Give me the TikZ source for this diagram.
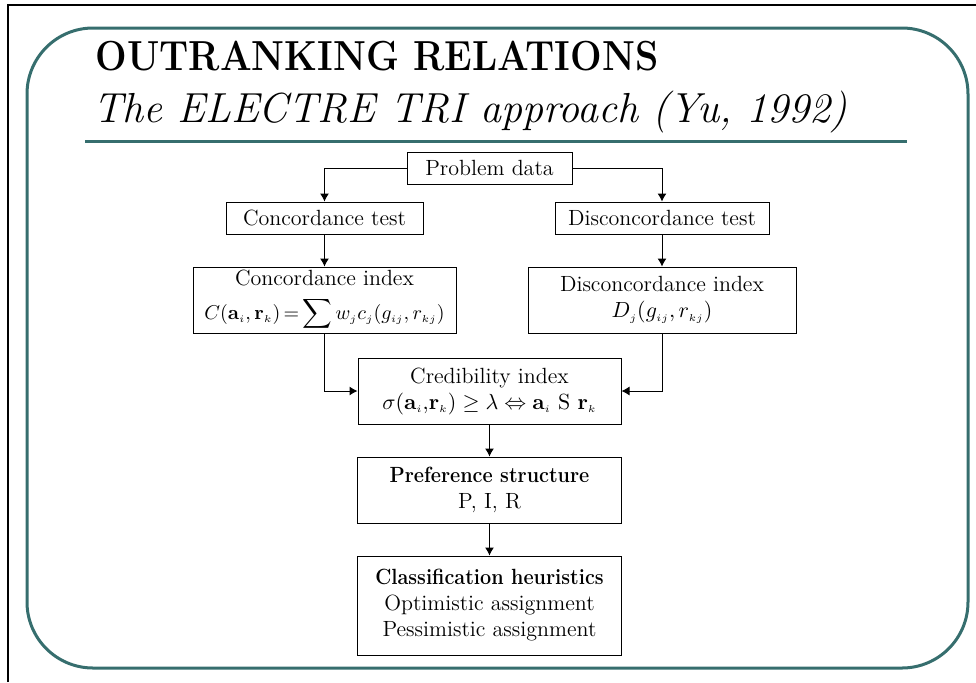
\documentclass[tikz,border=0pt]{standalone}
\usepackage{amsmath,amssymb}
\usepackage{tikz}
\usetikzlibrary{calc,arrows.meta}
\definecolor{slideteal}{RGB}{54,110,110}
\newcommand{\ssub}[1]{_{\scriptscriptstyle #1}}
\newcommand{\nbf}[1]{\scalebox{0.9}[1]{\bfseries #1}}

\begin{document}
\begin{tikzpicture}[x=0.5pt, y=-0.5pt, >={Latex[length=4pt,width=4.5pt]}, line width=0.5pt,
  box/.style={draw, align=center, inner sep=0pt, font=\fontsize{11}{13}\selectfont}]
\useasboundingbox (0,0) rectangle (976,682);
\draw[line width=1pt] (8,682) -- (8,5) -- (976,5);
\draw[slideteal, line width=1.5pt, rounded corners=33pt] (27,28) rectangle (968,668);
\node[anchor=base west, inner sep=0pt, name=title] at (95,70)
  {\scalebox{0.89}[1]{\fontsize{21}{25}\selectfont\bfseries OUTRANKING RELATIONS}};
\node[anchor=base west, inner sep=0pt, name=subtitle] at (93,122)
  {\fontsize{21}{25}\selectfont\itshape The ELECTRE TRI approach (Yu, 1992)};
\draw[slideteal, line width=1.5pt] (85,141) -- (907,141);

\node[box, minimum width=82.5pt, minimum height=16pt, name=prob] at (489.5,168) {Problem data};
\node[box, minimum width=98.5pt, minimum height=16pt, name=ctest] at (324.5,218) {Concordance test};
\node[box, minimum width=107pt, minimum height=16pt, name=dtest] at (662,218) {Disconcordance test};
\node[box, minimum width=131.5pt, minimum height=33pt, name=cidx] at (324.5,300)
  {Concordance index\\[4pt] \fontsize{10.3}{12}\selectfont
   $\thickmuskip=3mu C(\mathbf{a}\ssub{i},\mathbf{r}\ssub{k})=\displaystyle\sum w\ssub{j}c\ssub{j}(g\ssub{ij},r\ssub{kj})$};
\node[box, minimum width=134pt, minimum height=33pt, name=didx] at (662,300)
  {Disconcordance index\\ $D\ssub{j}(g\ssub{ij},r\ssub{kj})$};
\node[box, minimum width=131.5pt, minimum height=33pt, name=cred] at (489.5,391)
  {Credibility index\\ $\sigma(\mathbf{a}\ssub{i}{,}\mathbf{r}\ssub{k})\geq\lambda\Leftrightarrow\mathbf{a}\ssub{i}\ \mathrm{S}\ \mathbf{r}\ssub{k}$};
\node[box, minimum width=132pt, minimum height=33pt, name=pref] at (489.5,490)
  {\nbf{Preference structure}\\ P, I, R};
\node[box, minimum width=132pt, minimum height=49.5pt, name=heur] at (489.5,605.5)
  {\nbf{Classification heuristics}\\ Optimistic assignment\\ Pessimistic assignment};

\draw[->] (prob.west) -| (ctest.north);
\draw[->] (prob.east) -| (dtest.north);
\draw[->] (ctest) -- (cidx);
\draw[->] (dtest) -- (didx);
\draw[->] (cidx.south) |- (cred.west);
\draw[->] (didx.south) |- (cred.east);
\draw[->] (cred) -- (pref);
\draw[->] (pref) -- (heur);
\end{tikzpicture}
\end{document}
